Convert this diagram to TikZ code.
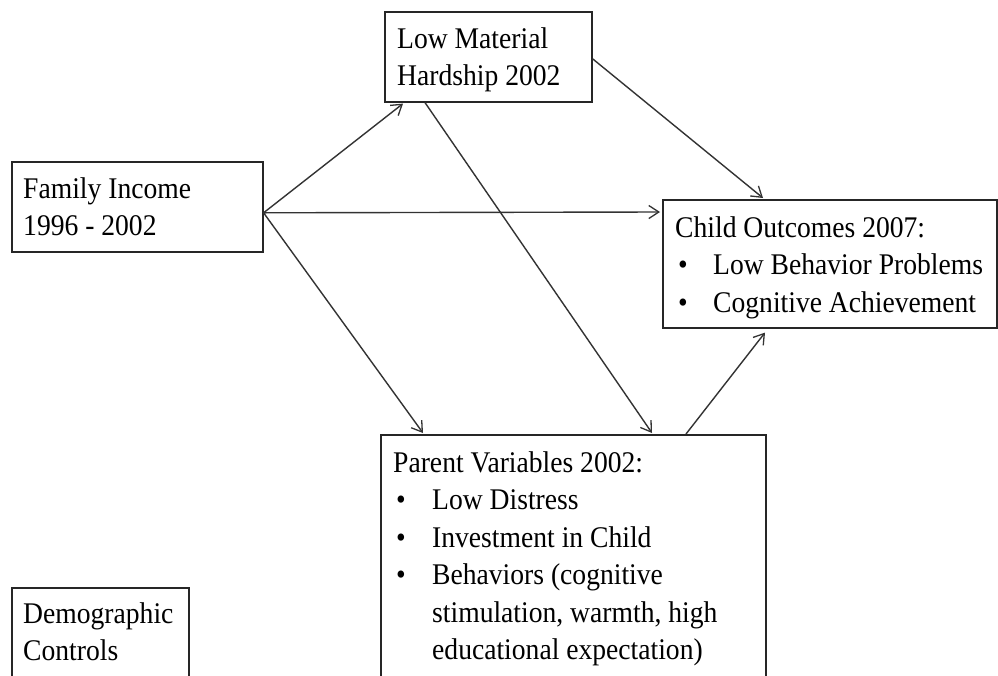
\documentclass[tikz,border=0pt]{standalone}
\usepackage{fontspec}
\setmainfont{Liberation Serif}[FakeStretch=0.92]
\usetikzlibrary{arrows.meta,calc}

\tikzset{
  box/.style={draw=black!85, line width=1.6pt, inner sep=0pt, anchor=north west},
  label/.style={anchor=base west, inner sep=0pt, text=black},
  link/.style={draw=black!80, line width=1.4pt,
    -{Straight Barb[length=10pt,width=13pt,line width=1.3pt]}},
}
\newcommand{\blocktext}{\fontsize{30pt}{37.5pt}\selectfont}
\newcommand{\itemrow}[1]{\hspace*{3pt}\textbullet & #1}

\begin{document}
\begin{tikzpicture}[x=1pt,y=-1pt]
\useasboundingbox (0,0) rectangle (998,675);
\fill[white] (0,0) rectangle (998,675);
\clip (0,0) rectangle (998,675);

% boxes
\node[box, minimum width=251pt, minimum height=90pt]  (fi)  at (11,161)  {};
\node[box, minimum width=207pt, minimum height=90pt]  (lmh) at (384,11)  {};
\node[box, minimum width=334pt, minimum height=128pt] (co)  at (662,199) {};
\node[box, minimum width=385pt, minimum height=300pt] (pv)  at (380,434) {};
\node[box, minimum width=177pt, minimum height=130pt] (dc)  at (11,587)  {};

% box texts
\node[label] (fi-t) at ($(fi.north west)+(12,37)$) {\blocktext
  \begin{tabular}[t]{@{}l@{}}Family Income\\ 1996 - 2002\end{tabular}};
\node[label] (lmh-t) at ($(lmh.north west)+(13,37)$) {\blocktext
  \begin{tabular}[t]{@{}l@{}}Low Material\\ Hardship 2002\end{tabular}};
\node[label] (co-t) at ($(co.north west)+(13,38)$) {\blocktext
  \begin{tabular}[t]{@{}p{38pt}@{}l@{}}
  \multicolumn{2}{@{}l@{}}{Child Outcomes 2007:}\\
  \itemrow{Low Behavior Problems}\\
  \itemrow{Cognitive Achievement}
  \end{tabular}};
\node[label] (pv-t) at ($(pv.north west)+(13,38)$) {\blocktext
  \begin{tabular}[t]{@{}p{39pt}@{}l@{}}
  \multicolumn{2}{@{}l@{}}{Parent Variables 2002:}\\
  \itemrow{Low Distress}\\
  \itemrow{Investment in Child}\\
  \itemrow{Behaviors (cognitive}\\
  & stimulation, warmth, high\\
  & educational expectation)
  \end{tabular}};
\node[label] (dc-t) at ($(dc.north west)+(12,36)$) {\blocktext
  \begin{tabular}[t]{@{}l@{}}Demographic\\ Controls\end{tabular}};

% connectors
\coordinate (fi-out) at ($(fi.east)+(0,6)$);
\draw[link] (fi-out) -- ($(lmh.south west)+(19,1)$);
\draw[link] (fi-out) -- ($(co.north west)+(-2,13)$);
\draw[link] (fi-out) -- ($(pv.north west)+(43,-1)$);
\draw[link] ($(lmh.south west)+(41,0)$) -- ($(pv.north west)+(272,-1)$);
\draw[link] ($(lmh.east)+(0,2)$) -- ($(co.north west)+(101,-1)$);
\draw[link] ($(pv.north west)+(306,0)$) -- ($(co.south west)+(103,4)$);
\end{tikzpicture}
\end{document}
